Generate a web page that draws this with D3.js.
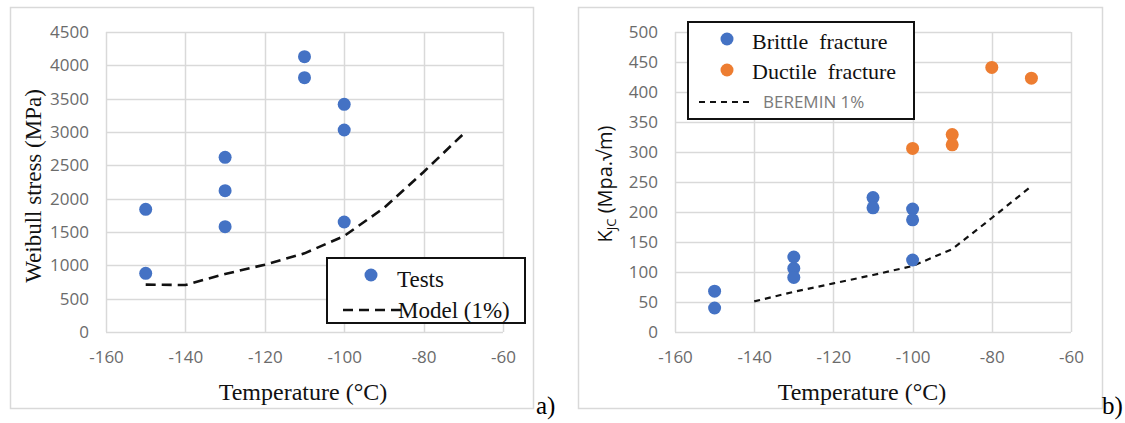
<!DOCTYPE html>
<html>
<head>
<meta charset="utf-8">
<script src="https://cdn.jsdelivr.net/npm/d3@7"></script>
<style>
  body { margin: 0; background: #fff; }
  svg { display: block; }
</style>
</head>
<body>
<svg id="chart" width="1125" height="423"></svg>
<script>
// ---- data: panel a) ----
const tempTicks = [-160, -140, -120, -100, -80, -60];
const stressTicks = [0, 500, 1000, 1500, 2000, 2500, 3000, 3500, 4000, 4500];
const testTemps = [-150, -150, -130, -130, -130, -110, -110, -100, -100, -100];
const testStress = [1840, 880, 2620, 2120, 1580, 4130, 3815, 3415, 3030, 1650];
const modelTemps = [-150, -140, -130, -120, -110, -100, -90, -80, -70];
const modelStress = [710, 705, 870, 1010, 1180, 1440, 1860, 2400, 2970];

// ---- data: panel b) ----
const kjcTicks = [0, 50, 100, 150, 200, 250, 300, 350, 400, 450, 500];
const brittleTemps = [-150, -150, -130, -130, -130, -110, -110, -100, -100, -100];
const brittleKjc = [68, 40, 125, 106, 91, 224, 207, 205, 187, 120];
const ductileTemps = [-100, -90, -90, -80, -70];
const ductileKjc = [306, 329, 312, 441, 423];
const bereminTemps = [-140, -130, -120, -110, -100, -90, -80, -70];
const bereminKjc = [51, 67, 81, 95, 110, 138, 190, 243];

const BLUE = '#4472c4';
const ORANGE = '#ed7d31';
const GRID = '#d9d9d9';
const SERIF = '"Liberation Serif", "Times New Roman", serif';
const SANS = '"Open Sans", "Liberation Sans", sans-serif';

const svg = d3.select('#chart');

function drawPanel(opt) {
  const g = svg.append('g');

  // outer frame
  g.append('rect')
    .attr('x', opt.frame[0] + 0.5).attr('y', opt.frame[1] + 0.5)
    .attr('width', opt.frame[2] - opt.frame[0]).attr('height', opt.frame[3] - opt.frame[1])
    .attr('fill', 'none').attr('stroke', GRID).attr('stroke-width', 1.5);

  const x = d3.scaleLinear().domain([-160, -60]).range([opt.left, opt.right]);
  const y = d3.scaleLinear().domain([0, opt.yTicks[opt.yTicks.length - 1]]).range([opt.bottom, opt.top]);

  // grid
  g.append('g').selectAll('line.h').data(opt.yTicks).enter().append('line')
    .attr('x1', opt.left).attr('x2', opt.right)
    .attr('y1', d => Math.round(y(d)) + 0.5).attr('y2', d => Math.round(y(d)) + 0.5)
    .attr('stroke', GRID).attr('stroke-width', 1.5);
  g.append('g').selectAll('line.v').data(tempTicks).enter().append('line')
    .attr('y1', opt.top).attr('y2', opt.bottom)
    .attr('x1', d => Math.round(x(d)) + 0.5).attr('x2', d => Math.round(x(d)) + 0.5)
    .attr('stroke', GRID).attr('stroke-width', 1.5);

  // tick labels via axes, domain and tick lines hidden
  const plain = d => String(d);
  const ax = g.append('g').attr('transform', `translate(0,${opt.bottom})`)
    .call(d3.axisBottom(x).tickValues(tempTicks).tickFormat(plain).tickSize(0).tickPadding(19));
  const ay = g.append('g').attr('transform', `translate(${opt.left},0)`)
    .call(d3.axisLeft(y).tickValues(opt.yTicks).tickFormat(plain).tickSize(0).tickPadding(17));
  [ax, ay].forEach(a => {
    a.select('.domain').remove();
    a.selectAll('text').attr('font-family', SANS).attr('font-size', 17).attr('fill', '#6b6b6b');
  });

  // line
  const line = d3.line().x(d => x(d[0])).y(d => y(d[1]));
  g.append('path')
    .datum(d3.zip(opt.lineX, opt.lineY))
    .attr('d', line)
    .attr('fill', 'none').attr('stroke', '#111')
    .attr('stroke-width', opt.lineWidth)
    .attr('stroke-dasharray', opt.dash);

  // scatter series
  opt.series.forEach(s => {
    g.append('g').selectAll('circle').data(d3.zip(s.x, s.y)).enter().append('circle')
      .attr('cx', d => x(d[0])).attr('cy', d => y(d[1])).attr('r', 6.5)
      .attr('fill', s.color);
  });

  // axis title
  g.append('text')
    .attr('x', opt.xTitleX).attr('y', 400)
    .attr('text-anchor', 'middle')
    .attr('font-family', SERIF).attr('font-size', 24).attr('fill', '#111')
    .text('Temperature (°C)');

  // panel letter
  g.append('text')
    .attr('x', opt.letterX).attr('y', 414)
    .attr('font-family', SERIF).attr('font-size', 25).attr('fill', '#000')
    .text(opt.letter);

  return { g, x, y };
}

// ---------- panel a ----------
const pa = drawPanel({
  frame: [10, 7, 533, 408],
  left: 106, right: 503, top: 32, bottom: 332,
  yTicks: stressTicks,
  lineX: modelTemps, lineY: modelStress, lineWidth: 2.6, dash: '10,6',
  series: [{ x: testTemps, y: testStress, color: BLUE }],
  xTitleX: 303, letter: 'a)', letterX: 536
});

pa.g.append('text')
  .attr('transform', 'translate(41,186) rotate(-90)')
  .attr('text-anchor', 'middle')
  .attr('font-family', SERIF).attr('font-size', 23).attr('fill', '#111')
  .text('Weibull stress (MPa)');

// legend a
const la = pa.g.append('g');
la.append('rect').attr('x', 327).attr('y', 258).attr('width', 198).attr('height', 65)
  .attr('fill', '#fff').attr('stroke', '#111').attr('stroke-width', 2);
la.append('circle').attr('cx', 371).attr('cy', 275).attr('r', 6.5).attr('fill', BLUE);
la.append('text').attr('x', 397).attr('y', 287)
  .attr('font-family', SERIF).attr('font-size', 23).attr('fill', '#111').text('Tests');
la.append('line').attr('x1', 343).attr('x2', 402).attr('y1', 310).attr('y2', 310)
  .attr('stroke', '#111').attr('stroke-width', 2.6).attr('stroke-dasharray', '10,6');
la.append('text').attr('x', 398).attr('y', 318)
  .attr('font-family', SERIF).attr('font-size', 23).attr('fill', '#111').text('Model (1%)');

// ---------- panel b ----------
const pb = drawPanel({
  frame: [578, 7, 1102, 408],
  left: 675, right: 1071, top: 32, bottom: 332,
  yTicks: kjcTicks,
  lineX: bereminTemps, lineY: bereminKjc, lineWidth: 2.2, dash: '6,5',
  series: [
    { x: brittleTemps, y: brittleKjc, color: BLUE },
    { x: ductileTemps, y: ductileKjc, color: ORANGE }
  ],
  xTitleX: 862, letter: 'b)', letterX: 1102
});

const yt = pb.g.append('text')
  .attr('transform', 'translate(612,184) rotate(-90)')
  .attr('text-anchor', 'middle')
  .attr('font-family', SANS).attr('font-size', 20).attr('fill', '#111');
yt.append('tspan').text('K');
yt.append('tspan').attr('font-size', 13).attr('dy', 4).text('JC');
yt.append('tspan').attr('dy', -4).text(' (Mpa.√m)');

// legend b
const lb = pb.g.append('g');
lb.append('rect').attr('x', 688).attr('y', 22).attr('width', 226).attr('height', 97)
  .attr('fill', '#fff').attr('stroke', '#111').attr('stroke-width', 2);
lb.append('circle').attr('cx', 727).attr('cy', 39).attr('r', 6.5).attr('fill', BLUE);
lb.append('text').attr('x', 752).attr('y', 49)
  .attr('font-family', SERIF).attr('font-size', 22).attr('fill', '#111').attr('xml:space', 'preserve')
  .text('Brittle  fracture');
lb.append('circle').attr('cx', 727).attr('cy', 70).attr('r', 6.5).attr('fill', ORANGE);
lb.append('text').attr('x', 752).attr('y', 79)
  .attr('font-family', SERIF).attr('font-size', 22).attr('fill', '#111').attr('xml:space', 'preserve')
  .text('Ductile  fracture');
lb.append('line').attr('x1', 699).attr('x2', 752).attr('y1', 102).attr('y2', 102)
  .attr('stroke', '#111').attr('stroke-width', 2.2).attr('stroke-dasharray', '6,5');
lb.append('text').attr('x', 763).attr('y', 108)
  .attr('font-family', SANS).attr('font-size', 17).attr('fill', '#7a7a7a').text('BEREMIN 1%');
</script>
</body>
</html>
